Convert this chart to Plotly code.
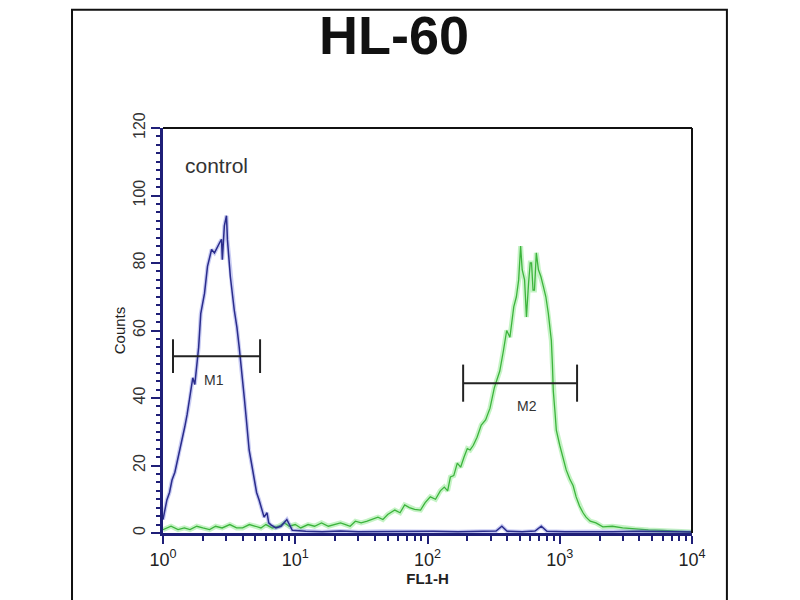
import math
import plotly.graph_objects as go

# ---- data ----
control_x = [1.0, 1.07, 1.12, 1.17, 1.23, 1.29, 1.37, 1.46, 1.52, 1.59, 1.68, 1.74, 1.80, 1.86, 1.93,
             2.06, 2.17, 2.25, 2.33, 2.45, 2.58, 2.68, 2.77, 2.81, 2.91, 3.02, 3.07, 3.15, 3.23,
             3.46, 3.62, 3.77, 3.97, 4.12, 4.26, 4.48, 4.70, 4.89, 5.10, 5.33, 5.55, 5.81,
             6.12, 6.30, 6.55, 7.14, 7.8, 8.64, 9.5, 12, 16, 22, 30, 45, 70, 110, 170, 250,
             330, 365, 400, 520, 650, 725, 800, 1100, 1600, 2500, 4000, 6500, 10000]
control_y = [4, 9.8, 12, 15.7, 18, 21.6, 26, 31.4, 35, 39.4, 46, 44, 50, 55, 65,
             71, 79, 82, 84, 83, 85, 86, 87, 81, 91, 94, 87, 82, 76,
             66, 61, 55, 45, 40, 34, 24.6, 20, 16.6, 12, 9.8, 7, 4.7,
             6, 3, 2.4, 1.5, 2, 4, 0.8, 0.5, 0.4, 0.6, 0.4, 0.5, 0.4, 0.5, 0.4, 0.5,
             0.6, 2, 0.5, 0.4, 0.6, 2, 0.5, 0.4, 0.5, 0.4, 0.5, 0.4, 0.3]

stained_x = [1.0, 1.15, 1.3, 1.45, 1.6, 1.8, 2.0, 2.25, 2.5, 2.8, 3.2, 3.6, 4.0, 4.5, 5.0, 5.5,
             6.0, 6.7, 7.5, 8.3, 9.0, 10, 11, 12.5, 14, 15.8, 17.8, 20, 22, 24, 26, 28.5,
             31.5, 35, 38, 42.2, 46, 50, 56.6, 62, 67.2, 73, 80, 88.6, 96, 105, 115, 125,
             134, 142, 149, 158, 168, 178, 189, 200, 210, 222, 237, 255, 275, 297, 320,
             352, 375, 397, 420, 449, 470, 489, 506, 520, 542, 560, 581, 598, 612, 628,
             644, 665, 690, 720, 752, 785, 820, 845, 864, 880, 894, 920, 942, 1000, 1062,
             1119, 1190, 1263, 1330, 1410, 1500, 1580, 1700, 1877, 2117, 2500, 2990, 3700,
             4680, 6000, 7500, 8870, 10000]
stained_y = [1, 2, 1, 1.5, 1, 2, 1.5, 1, 2, 1.5, 2.5, 1.5, 1.5, 2.5, 2, 1.5,
             2.5, 1.5, 2, 3, 2, 2.5, 1.5, 2.5, 2, 3, 2, 2.5, 3, 2.5, 2, 3.5,
             3, 3.5, 4, 4.7, 4, 5.5, 6.8, 6, 8.3, 7.5, 7, 6.8, 9, 10.7, 10, 12.5,
             13.6, 12.5, 16.6, 17, 20.7, 19.5, 22.5, 25, 24.6, 26, 28.4, 32, 33.5, 37, 43,
             48, 54, 60, 58, 67, 70, 75, 85, 78, 75, 64, 74, 80, 80, 72,
             72, 83, 78, 76, 73, 70, 65, 60, 57, 50, 42, 36, 30.5, 26, 22,
             18.7, 16, 14, 10.7, 8, 6, 4.7, 3.5, 3, 1.8, 2, 1.5, 1.2,
             0.9, 0.8, 0.6, 0.5, 0.3]

marker_names = ["M1", "M2"]
marker_lo = [1.19, 186]
marker_hi = [5.42, 1352]
marker_y = [52.4, 44.4]
marker_cap = [5, 5.5]
marker_label_x = [2.45, 561]
marker_label_y = [45.3, 37.5]

y_ticks = [0, 20, 40, 60, 80, 100, 120]
x_ticks = [1, 10, 100, 1000, 10000]
x_tick_text = ["10<sup>0</sup>", "10<sup>1</sup>", "10<sup>2</sup>", "10<sup>3</sup>", "10<sup>4</sup>"]
x_minor_ticks = [m * 10 ** k for k in range(4) for m in range(2, 10)]

NAVY = "#1f1f78"
FONT = "Liberation Sans"

fig = go.Figure()

# green sample (with soft glow)
fig.add_trace(go.Scatter(x=stained_x, y=stained_y, mode="lines",
                         line=dict(color="rgba(90,220,90,0.35)", width=5), hoverinfo="skip"))
fig.add_trace(go.Scatter(x=stained_x, y=stained_y, mode="lines",
                         line=dict(color="#3cb43c", width=1.3)))
# blue control
fig.add_trace(go.Scatter(x=control_x, y=control_y, mode="lines",
                         line=dict(color="rgba(100,110,220,0.35)", width=4), hoverinfo="skip"))
fig.add_trace(go.Scatter(x=control_x, y=control_y, mode="lines",
                         line=dict(color="#2a2c8c", width=1.5)))

# marker bars
for name, lo, hi, yv, cap, lx, ly in zip(marker_names, marker_lo, marker_hi, marker_y,
                                         marker_cap, marker_label_x, marker_label_y):
    fig.add_trace(go.Scatter(x=[lo, hi], y=[yv, yv], mode="lines",
                             line=dict(color="#222222", width=2)))
    fig.add_trace(go.Scatter(x=[lo, lo], y=[yv - cap, yv + cap], mode="lines",
                             line=dict(color="#222222", width=2)))
    fig.add_trace(go.Scatter(x=[hi, hi], y=[yv - cap, yv + cap], mode="lines",
                             line=dict(color="#222222", width=2)))
    fig.add_annotation(x=math.log10(lx), y=ly, xref="x", yref="y", text=name, showarrow=False,
                       font=dict(family=FONT, size=14, color="#333333"))

fig.add_annotation(x=math.log10(2.55), y=109, xref="x", yref="y", text="control", showarrow=False,
                   font=dict(family=FONT, size=21, color="#333333"))

fig.update_layout(
    width=800, height=600,
    margin=dict(l=155, r=116, t=120, b=75),
    paper_bgcolor="white", plot_bgcolor="white",
    showlegend=False,
    title=dict(text="<b>HL-60</b>", x=0.4825, xanchor="center", y=0.955, yanchor="middle",
               font=dict(family=FONT, size=54, color="#111111")),
    xaxis=dict(type="log", range=[0, 4], tickvals=x_ticks, ticktext=x_tick_text,
               showgrid=False, zeroline=False, showline=True, linecolor=NAVY, linewidth=3,
               ticks="outside", ticklen=8, tickwidth=2, tickcolor=NAVY,
               minor=dict(tickvals=x_minor_ticks, ticks="outside", ticklen=5, tickwidth=1.5,
                          tickcolor=NAVY, showgrid=False),
               tickfont=dict(family=FONT, size=18, color="#222222"),
               title=dict(text="<b>FL1-H</b>", standoff=4,
                          font=dict(family=FONT, size=15, color="#222222"))),
    yaxis=dict(range=[0, 120], tickvals=y_ticks, tickangle=-90,
               showgrid=False, zeroline=False, showline=True, linecolor=NAVY, linewidth=3,
               ticks="outside", ticklen=9, tickwidth=2, tickcolor=NAVY,
               minor=dict(dtick=2.5, ticks="outside", ticklen=4, tickwidth=1.5,
                          tickcolor=NAVY, showgrid=False),
               tickfont=dict(family=FONT, size=16, color="#333333"),
               title=dict(text="Counts", standoff=2,
                          font=dict(family=FONT, size=15, color="#222222"))),
)

# plot box top/right edges
fig.add_shape(type="line", xref="x domain", yref="y domain", x0=0, x1=1, y0=1, y1=1,
              line=dict(color="#111111", width=2))
fig.add_shape(type="line", xref="x domain", yref="y domain", x0=1, x1=1, y0=0, y1=1,
              line=dict(color="#111111", width=2))
# outer frame
fig.add_shape(type="rect", xref="paper", yref="paper", x0=-0.172, x1=1.066, y0=-0.2, y1=1.292,
              line=dict(color="#111111", width=2), layer="below")

fig.write_html("out.html")
